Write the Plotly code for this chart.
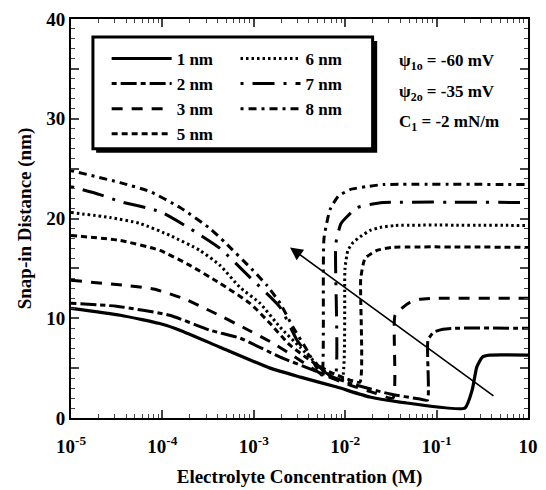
import plotly.graph_objects as go
import math

# ---- data (concentration in M, snap-in distance in nm) ----
c_1nm = [1e-5, 3.47e-5, 1.0e-4, 1.55e-4, 4.27e-4, 1.51e-3, 3.24e-3, 8.1e-3, 0.0186, 0.0398, 0.204, 0.245, 0.275, 0.316, 0.38, 1.0]
d_1nm = [11.0, 10.3, 9.4, 8.8, 7.1, 5.0, 4.1, 3.1, 2.1, 1.6, 1.0, 2.8, 5.1, 6.1, 6.3, 6.3]

c_2nm = [1e-5, 3.16e-5, 1.2e-4, 3.31e-4, 7.08e-4, 1.95e-3, 4.47e-3, 0.0112, 0.0309, 0.066, 0.0795, 0.0805, 0.093, 0.1175, 0.158, 1.0]
d_2nm = [11.5, 11.2, 10.3, 8.8, 8.0, 6.1, 4.8, 3.5, 2.4, 1.9, 1.8, 7.8, 8.6, 8.9, 9.0, 9.0]

c_3nm = [1e-5, 3.9e-5, 8.3e-5, 1.68e-4, 3.58e-4, 7.6e-4, 1.62e-3, 3.2e-3, 5.3e-3, 0.0113, 0.0212, 0.0333, 0.0351, 0.0428, 0.0512, 0.0658, 0.096, 1.0]
d_3nm = [13.8, 13.3, 12.9, 12.0, 10.6, 9.1, 7.5, 5.8, 4.5, 3.3, 2.5, 2.0, 10.3, 11.1, 11.6, 11.9, 12.0, 12.0]

c_5nm = [1e-5, 3.44e-5, 9.4e-5, 2.0e-4, 4.27e-4, 9.08e-4, 1.5e-3, 2.49e-3, 4.12e-3, 6.83e-3, 0.0113, 0.0145, 0.0148, 0.0165, 0.0223, 0.0325, 1.0]
d_5nm = [18.3, 17.8, 16.8, 15.3, 13.5, 11.5, 9.5, 7.3, 5.8, 4.6, 3.8, 3.6, 14.0, 16.0, 16.8, 17.1, 17.1]

c_6nm = [1e-5, 2.67e-5, 5.7e-5, 1.21e-4, 2.58e-4, 4.27e-4, 7.06e-4, 1.17e-3, 1.94e-3, 3.2e-3, 5.04e-3, 7.18e-3, 9.2e-3, 9.95e-3, 0.0107, 0.0122, 0.0153, 0.0187, 0.024, 0.0351, 1.0]
d_6nm = [20.6, 20.1, 19.5, 18.3, 16.8, 15.3, 13.1, 11.5, 9.1, 7.1, 5.3, 4.1, 3.8, 15.0, 16.8, 17.6, 18.3, 18.8, 19.1, 19.3, 19.3]

c_7nm = [1e-5, 2.07e-5, 3.44e-5, 9.4e-5, 2.0e-4, 4.27e-4, 9.08e-4, 1.94e-3, 2.97e-3, 4.45e-3, 6.0e-3, 7.73e-3, 7.9e-3, 9.0e-3, 0.0105, 0.0135, 0.0187, 0.026, 1.0]
d_7nm = [23.2, 22.4, 21.7, 20.7, 19.0, 17.0, 14.1, 11.1, 7.8, 5.8, 4.6, 4.1, 17.5, 19.5, 20.2, 21.1, 21.4, 21.6, 21.6]

c_8nm = [1e-5, 3.44e-5, 7.3e-5, 1.56e-4, 3.32e-4, 4.84e-4, 9.8e-4, 1.39e-3, 1.94e-3, 2.69e-3, 3.82e-3, 5.04e-3, 5.57e-3, 5.86e-3, 6.83e-3, 8.34e-3, 0.0113, 0.0173, 0.026, 1.0]
d_8nm = [24.8, 23.6, 22.7, 21.1, 19.0, 17.6, 14.8, 13.3, 11.5, 9.1, 6.8, 4.8, 4.3, 18.0, 20.9, 22.2, 22.9, 23.2, 23.4, 23.4]

x_tick_vals = [1e-5, 1e-4, 1e-3, 1e-2, 1e-1, 1.0]
x_tick_text = ["10<sup>-5</sup>", "10<sup>-4</sup>", "10<sup>-3</sup>", "10<sup>-2</sup>", "10<sup>-1</sup>", "10"]
y_tick_vals = [0, 5, 10, 15, 20, 25, 30, 35, 40]
y_tick_text = ["0", "", "10", "", "20", "", "30", "", "40"]

arrow_tip = (0.00249, 17.1)
arrow_tail = (0.435, 2.1)

FONT = "Liberation Serif"

series = [
    ("1 nm", c_1nm, d_1nm, "solid", 3.2, "legend"),
    ("2 nm", c_2nm, d_2nm, "5px,4px,16px,4px", 3.0, "legend"),
    ("3 nm", c_3nm, d_3nm, "11px,9px", 3.0, "legend"),
    ("5 nm", c_5nm, d_5nm, "6px,4px", 3.0, "legend"),
    ("6 nm", c_6nm, d_6nm, "2.5px,3px", 3.0, "legend2"),
    ("7 nm", c_7nm, d_7nm, "3px,9px,22px,9px", 3.0, "legend2"),
    ("8 nm", c_8nm, d_8nm, "3px,5px,8px,5px", 3.0, "legend2"),
]

fig = go.Figure()
for name, cx, dy, dash, w, lg in series:
    fig.add_trace(go.Scatter(x=cx, y=dy, mode="lines", name=name, legend=lg,
                             line=dict(color="black", width=w, dash=dash, shape="spline", smoothing=0.5)))

minor_x = [m * 10.0 ** e for e in range(-5, 0) for m in range(2, 10)]

leg_font = dict(size=17, family=FONT, weight="bold")
fig.update_layout(
    width=546, height=490,
    margin=dict(l=71, r=18, t=19, b=72),
    paper_bgcolor="white", plot_bgcolor="white",
    font=dict(family=FONT, size=16, color="black", weight="bold"),
    showlegend=True,
    legend=dict(x=0.078, y=0.945, xanchor="left", yanchor="top", bgcolor="rgba(0,0,0,0)",
                borderwidth=0, font=leg_font, tracegroupgap=0, itemwidth=60),
    legend2=dict(x=0.36, y=0.945, xanchor="left", yanchor="top", bgcolor="rgba(0,0,0,0)",
                 borderwidth=0, font=leg_font, tracegroupgap=0, itemwidth=60),
    xaxis=dict(type="log", range=[-5, 0], tickmode="array", tickvals=x_tick_vals, ticktext=x_tick_text,
               ticks="inside", ticklen=8, tickwidth=1.5, showline=True, linecolor="black", linewidth=2,
               mirror="allticks", showgrid=False, zeroline=False, ticklabelstandoff=10, automargin=False,
               tickfont=dict(size=19, family=FONT, weight="bold"),
               minor=dict(tickmode="array", tickvals=minor_x, ticks="inside", ticklen=4, tickwidth=1.2, showgrid=False),
               title=dict(text="Electrolyte Concentration (M)", font=dict(size=19, family=FONT, weight="bold"), standoff=14)),
    yaxis=dict(range=[0, 40], tickmode="array", tickvals=y_tick_vals, ticktext=y_tick_text,
               ticks="inside", ticklen=8, tickwidth=1.5, showline=True, linecolor="black", linewidth=2,
               mirror="allticks", showgrid=False, zeroline=False, automargin=False,
               tickfont=dict(size=19, family=FONT, weight="bold"),
               minor=dict(dtick=1, ticks="inside", ticklen=4, tickwidth=1.2, showgrid=False),
               title=dict(text="Snap-in Distance (nm)", font=dict(size=19, family=FONT, weight="bold"), standoff=10)),
)

# legend frame with drop shadow
fig.add_shape(type="rect", xref="paper", yref="paper", x0=0.055, x1=0.67, y0=0.665, y1=0.945,
              line=dict(color="black", width=0), fillcolor="black", layer="above")
fig.add_shape(type="rect", xref="paper", yref="paper", x0=0.048, x1=0.66, y0=0.675, y1=0.955,
              line=dict(color="black", width=3), fillcolor="white", layer="above")

# arrow
fig.add_annotation(x=math.log10(arrow_tip[0]), y=arrow_tip[1], ax=math.log10(arrow_tail[0]), ay=arrow_tail[1],
                   xref="x", yref="y", axref="x", ayref="y", text="", showarrow=True,
                   arrowhead=2, arrowsize=1.6, arrowwidth=1.6, arrowcolor="black")

# parameter labels
labels = ["ψ<sub>1o</sub> = -60 mV", "ψ<sub>2o</sub> = -35 mV", "C<sub>1</sub> = -2 mN/m"]
ys = [0.892, 0.815, 0.739]
for t, yy in zip(labels, ys):
    fig.add_annotation(x=0.713, y=yy, xref="paper", yref="paper", text=t, showarrow=False,
                       xanchor="left", yanchor="middle", font=dict(size=17, family=FONT, weight="bold"))

fig.write_html("out.html")
